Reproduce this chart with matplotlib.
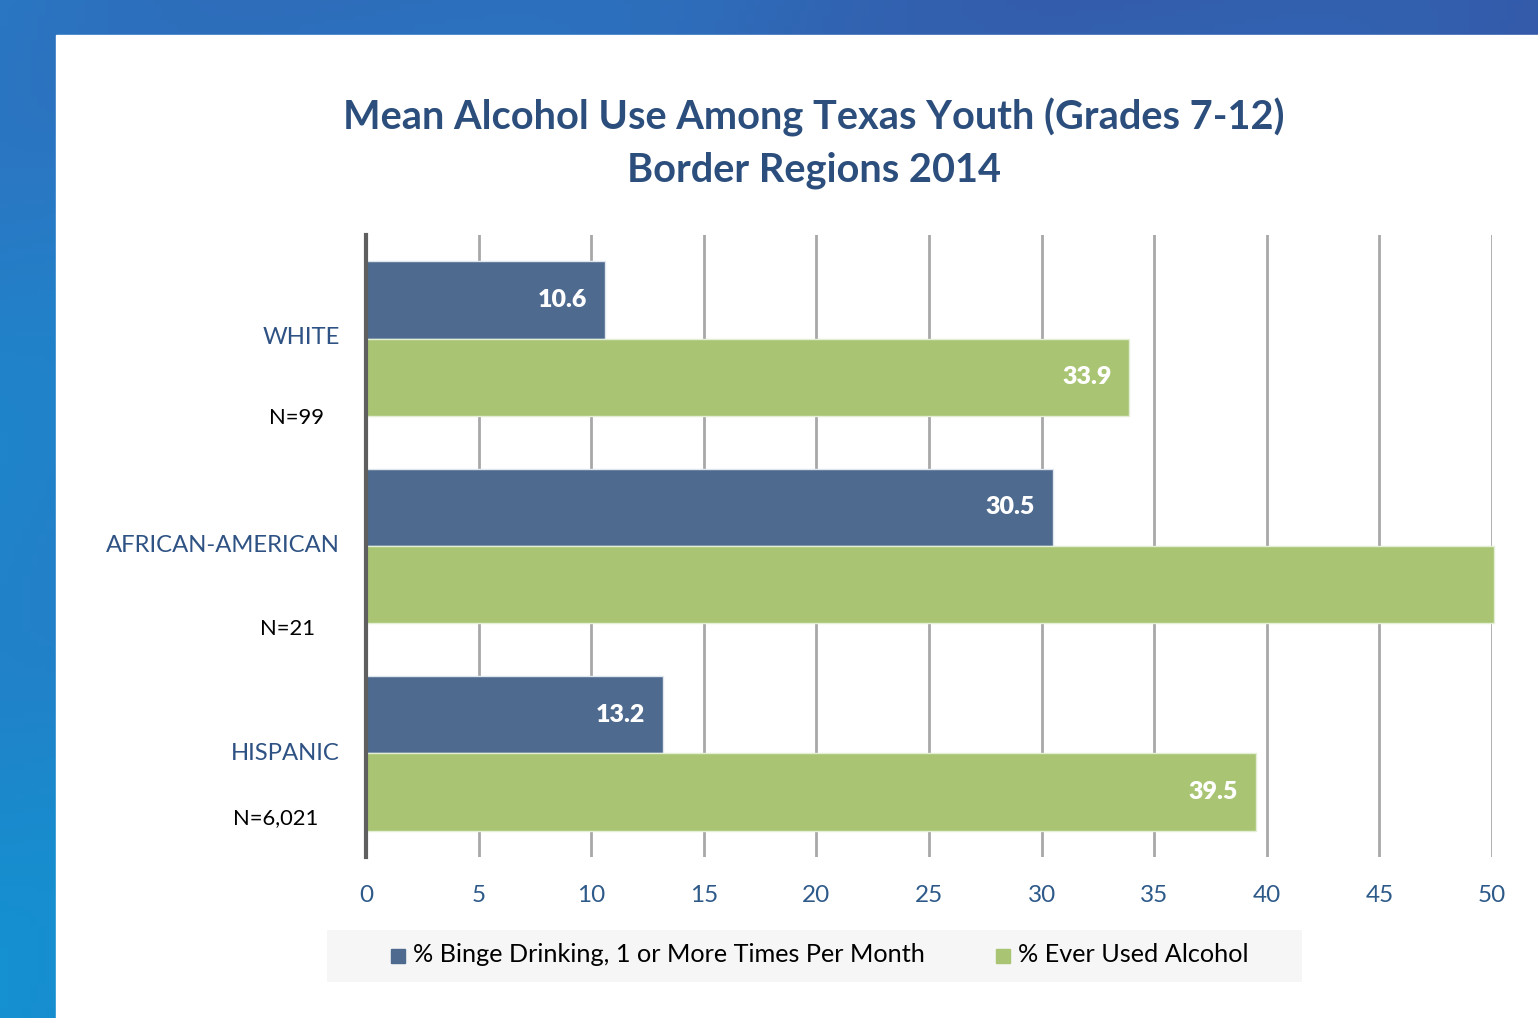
import numpy as np
import matplotlib.pyplot as plt
from matplotlib.patches import Rectangle

plt.rcParams['font.family'] = ['Lato', 'DejaVu Sans']

groups = ['WHITE', 'AFRICAN-AMERICAN', 'HISPANIC']
sizes = ['N=99', 'N=21', 'N=6,021']
binge = [10.6, 30.5, 13.2]
ever = [33.9, 50.1, 39.5]
ticks = [0, 5, 10, 15, 20, 25, 30, 35, 40, 45, 50]

W, H = 1538, 1018
fig = plt.figure(figsize=(W / 100, H / 100), dpi=100)

# blue background with white panel
bg = fig.add_axes([0, 0, 1, 1])
gx = np.linspace(0, 1, 200)
gy = np.linspace(0, 1, 200)
GX, GY = np.meshgrid(gx, gy)
grad = 0.5 * GX + 0.5 * (1 - GY) + 0.08 * np.sin(12 * (GX + GY))
bg.imshow(grad, cmap=plt.matplotlib.colors.LinearSegmentedColormap.from_list(
    'b', ['#1590d0', '#2a78c4', '#3558a8']), extent=[0, 1, 0, 1], aspect='auto')
bg.add_patch(Rectangle((56 / W, 0), 1, 1 - 35 / H, color='white'))
bg.set_xlim(0, 1)
bg.set_ylim(0, 1)
bg.axis('off')

# legend background
bg.add_patch(Rectangle((327 / W, 1 - 982 / H), (1302 - 327) / W, 52 / H,
                       color='#f6f6f6', lw=0))

title_col = '#2c4e7c'
fig.text(814 / W, 1 - 117 / H, 'Mean Alcohol Use Among Texas Youth (Grades 7-12)',
         ha='center', va='center', fontsize=28.6, fontweight='bold', color=title_col)
fig.text(814 / W, 1 - 170 / H, 'Border Regions 2014',
         ha='center', va='center', fontsize=28.6, fontweight='bold', color=title_col)

ax = fig.add_axes([366 / W, 1 - 857 / H, (1492 - 366) / W, (857 - 235) / H])
ax.set_xlim(0, 50)
ax.set_ylim(2.5, -0.5)

y = np.arange(len(groups))
h = 0.373
c1, c2 = '#4e6a8e', '#a9c574'
ax.barh(y - h / 2, binge, height=h, color=c1, edgecolor='#dfe6ee', lw=1, zorder=3)
ax.barh(y + h / 2, ever, height=h, color=c2, edgecolor='#e4eed4', lw=1, zorder=3,
        clip_on=False)

for i in range(len(groups)):
    ax.text(binge[i] - 0.8, y[i] - h / 2, f'{binge[i]:.1f}', ha='right', va='center',
            color='white', fontsize=18, fontweight='heavy', zorder=4)
    if ever[i] <= 50:
        ax.text(ever[i] - 0.8, y[i] + h / 2, f'{ever[i]:.1f}', ha='right', va='center',
                color='white', fontsize=18, fontweight='heavy', zorder=4)

ax.set_xticks(ticks)
ax.set_yticks([])
ax.grid(axis='x', color='#a8a8a8', lw=2, zorder=1)
ax.tick_params(axis='x', length=0, pad=20, labelsize=17.5, labelcolor='#2e5a8a')
for s in ['top', 'right', 'bottom']:
    ax.spines[s].set_visible(False)
ax.spines['left'].set_color('#5f5f5f')
ax.spines['left'].set_linewidth(3)
ax.spines['left'].set_zorder(5)

# category labels and sample sizes
lab_y = [337, 545, 753]
n_y = [418, 629, 818]
n_x = [324, 315, 318]
for i in range(len(groups)):
    fig.text(340 / W, 1 - lab_y[i] / H, groups[i], ha='right', va='center',
             fontsize=17.2, color='#2e5283')
    fig.text(n_x[i] / W, 1 - n_y[i] / H, sizes[i], ha='right', va='center',
             fontsize=15.8, color='black')

# legend
fig.patches.append(Rectangle((391 / W, 1 - 963 / H), 14 / W, 14 / H, color=c1,
                             transform=fig.transFigure, figure=fig))
fig.text(413 / W, 1 - 955 / H, '% Binge Drinking, 1 or More Times Per Month',
         ha='left', va='center', fontsize=18.2, color='black')
fig.patches.append(Rectangle((996 / W, 1 - 963 / H), 14 / W, 14 / H, color=c2,
                             transform=fig.transFigure, figure=fig))
fig.text(1018 / W, 1 - 955 / H, '% Ever Used Alcohol',
         ha='left', va='center', fontsize=18.2, color='black')

fig.savefig('out.png', dpi=100)
